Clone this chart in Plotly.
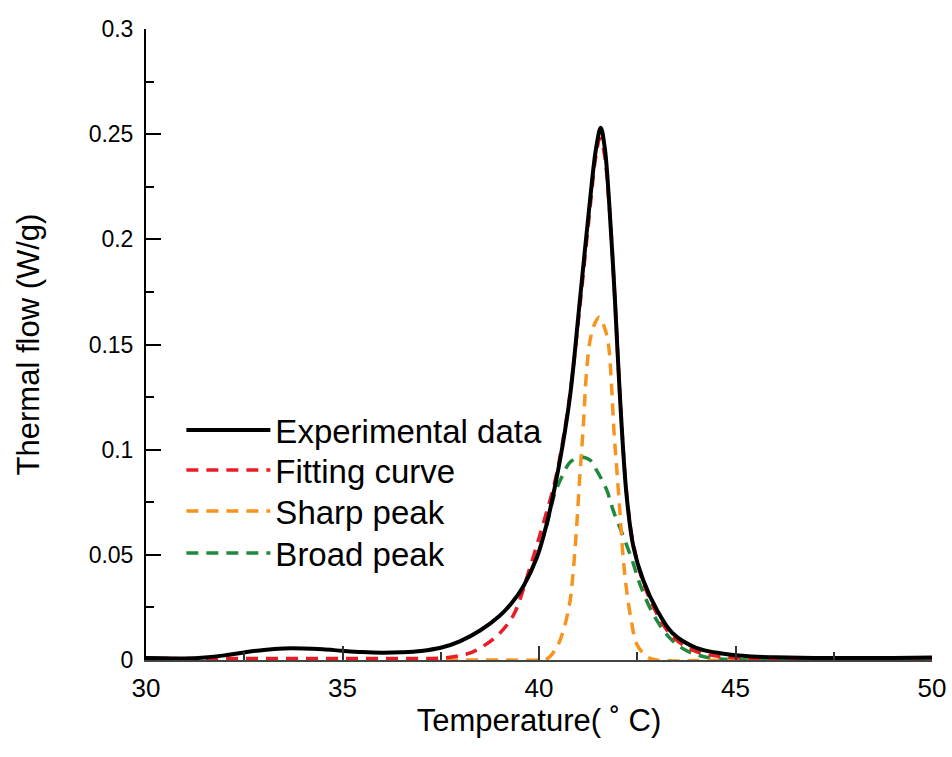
import plotly.graph_objects as go

# Experimental data
exp_t = [30.0, 30.5, 31.0, 31.5, 32.0, 32.5, 33.0, 33.5, 34.0, 34.5, 35.0, 35.5, 36.0, 36.5, 37.0,
         37.5, 38.0, 38.5, 39.0, 39.3, 39.6, 39.95, 40.2, 40.4, 40.6, 40.8, 41.04, 41.3, 41.45,
         41.57, 41.67, 41.78, 41.93, 42.06, 42.23, 42.4, 42.65, 43.0, 43.4, 44.0, 44.7, 45.4,
         46.0, 47.0, 48.0, 49.0, 50.0]
exp_q = [0.0010, 0.0008, 0.0007, 0.0012, 0.0022, 0.0036, 0.0048, 0.0055, 0.0055, 0.0051, 0.0044,
         0.0038, 0.0035, 0.0037, 0.0043, 0.0058, 0.0090, 0.0140, 0.0210, 0.0270, 0.0350, 0.0490,
         0.0650, 0.0820, 0.1020, 0.127, 0.171, 0.219, 0.243, 0.253, 0.244, 0.219, 0.172, 0.125,
         0.078, 0.054, 0.038, 0.0238, 0.0127, 0.0058, 0.0030, 0.0017, 0.0013, 0.0010, 0.0010,
         0.0010, 0.0012]

# Fitting curve
fit_t = [30.0, 31.0, 32.0, 33.0, 34.0, 35.0, 36.0, 37.0, 37.6, 38.0, 38.33, 38.9, 39.34, 39.77,
         40.11, 40.4, 40.6, 40.8, 41.04, 41.3, 41.45, 41.55, 41.65, 41.78, 41.93, 42.06, 42.23,
         42.4, 42.65, 43.0, 43.4, 44.0, 44.7, 45.5, 46.5, 48.0, 50.0]
fit_q = [0.0007, 0.0007, 0.0007, 0.0007, 0.0007, 0.0007, 0.0007, 0.0007, 0.0010, 0.0022, 0.0040,
         0.0110, 0.0210, 0.0440, 0.0650, 0.0845, 0.1035, 0.128, 0.168, 0.215, 0.240, 0.248, 0.242,
         0.218, 0.172, 0.126, 0.079, 0.055, 0.037, 0.022, 0.011, 0.004, 0.0015, 0.0008, 0.0007,
         0.0007, 0.0007]

# Sharp peak
sharp_t = [30.0, 35.0, 39.0, 40.0, 40.2, 40.45, 40.62, 40.79, 40.87, 40.96, 41.04, 41.12, 41.21,
           41.3, 41.42, 41.53, 41.65, 41.76, 41.85, 41.91, 41.97, 42.06, 42.14, 42.23, 42.36,
           42.48, 42.74, 43.0, 45.0, 50.0]
sharp_q = [0.0, 0.0, 0.0, 0.0, 0.0005, 0.006, 0.014, 0.028, 0.042, 0.064, 0.088, 0.109, 0.137,
           0.152, 0.160, 0.163, 0.159, 0.151, 0.129, 0.108, 0.093, 0.070, 0.049, 0.033, 0.0175,
           0.0079, 0.0016, 0.0, 0.0, 0.0]

# Broad peak
broad_t = [40.2, 40.4, 40.58, 40.79, 41.04, 41.3, 41.47, 41.72, 41.89, 42.14, 42.36,
           42.57, 42.9, 43.3, 43.7, 44.1, 44.6, 45.5, 47.0, 50.0]
broad_q = [0.064, 0.079, 0.087, 0.094, 0.0965, 0.095, 0.090, 0.081, 0.071, 0.059,
           0.048, 0.036, 0.022, 0.011, 0.005, 0.002, 0.0005, 0.0, 0.0, 0.0]

FONT = "Arial, Liberation Sans, sans-serif"
DASH = "12px,8px"

fig = go.Figure()
fig.add_trace(go.Scatter(x=broad_t, y=broad_q, mode="lines", name="Broad peak", legend="legend4",
                         line=dict(color="#1f8a3b", width=3.5, dash=DASH, shape="spline")))
fig.add_trace(go.Scatter(x=sharp_t, y=sharp_q, mode="lines", name="Sharp peak", legend="legend3",
                         line=dict(color="#f7941d", width=3.5, dash=DASH, shape="spline")))
fig.add_trace(go.Scatter(x=fit_t, y=fit_q, mode="lines", name="Fitting curve", legend="legend2",
                         line=dict(color="#ec1c24", width=3.5, dash=DASH, shape="spline")))
fig.add_trace(go.Scatter(x=exp_t, y=exp_q, mode="lines", name="Experimental data", legend="legend",
                         line=dict(color="black", width=4, shape="spline")))


def leg(yc):
    return dict(x=0.045, y=yc, xanchor="left", yanchor="middle",
                font=dict(size=33, family=FONT), itemwidth=84,
                bgcolor="rgba(0,0,0,0)")


fig.update_layout(
    width=952, height=757,
    paper_bgcolor="white", plot_bgcolor="white",
    margin=dict(l=146, r=20, t=29, b=97),
    font=dict(family=FONT, color="black"),
    showlegend=True,
    legend=leg(0.3645), legend2=leg(0.3011), legend3=leg(0.2361), legend4=leg(0.1696),
    xaxis=dict(range=[30, 50], dtick=5, tick0=30, ticks="inside", ticklen=14, tickwidth=2,
               tickcolor="#333333", showline=True, linecolor="#444444", linewidth=2,
               showgrid=False, zeroline=False, mirror=False, automargin=False,
               tickfont=dict(size=26, family=FONT), ticklabelstandoff=4,
               minor=dict(dtick=2.5, tick0=30, ticks="inside", ticklen=8, tickwidth=2,
                          tickcolor="#333333", showgrid=False),
               title=dict(text="Temperature( ˚ C)", font=dict(size=31, family=FONT), standoff=0)),
    yaxis=dict(range=[0, 0.3], dtick=0.05, tick0=0, ticks="inside", ticklen=15, tickwidth=2,
               tickcolor="black", showline=True, linecolor="black", linewidth=2,
               showgrid=False, zeroline=False, mirror=False, automargin=False,
               tickfont=dict(size=23, family=FONT), ticklabelstandoff=6,
               minor=dict(dtick=0.025, tick0=0, ticks="inside", ticklen=8, tickwidth=2,
                          tickcolor="black", showgrid=False),
               title=dict(text="Thermal flow (W/g)", font=dict(size=31, family=FONT), standoff=40)),
)

# remove the default 8px page margin so the 952x757 figure fills the window exactly
fig.write_html("out.html", config={"displayModeBar": False},
               post_script="document.body.style.margin='0';document.body.style.overflow='hidden';")
